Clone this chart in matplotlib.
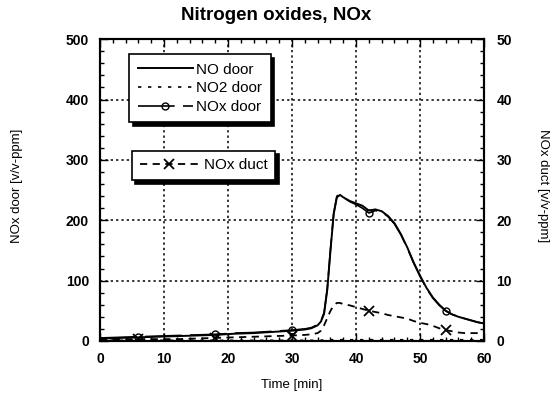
import matplotlib.pyplot as plt
from matplotlib.ticker import MultipleLocator

plt.rcParams['font.family'] = ['Liberation Sans', 'DejaVu Sans']

# time axis [min]
time = [0, 3, 6, 9, 12, 15, 18, 21, 24, 27, 30, 32, 33, 34, 34.5, 35, 35.5,
        36, 36.5, 37, 37.5, 38, 39, 40, 41, 42, 43, 44, 45, 46, 47, 48, 49,
        50, 51, 52, 53, 54, 55, 56, 57, 58, 59, 60]

# door concentrations [v/v-ppm]
no_door = [4, 5, 6, 7, 8, 9, 10, 12, 13, 15, 17, 19, 21, 26, 32, 45, 85,
           150, 210, 238, 242, 238, 232, 228, 224, 216, 218, 215, 207, 195,
           177, 155, 130, 108, 88, 72, 60, 50, 44, 40, 37, 34, 31, 29]
no2_door = [1, 1, 1, 1, 1, 1, 1, 1, 1, 1, 1, 1, 1, 1, 1, 2, 2,
            2, 2, 2, 2, 2, 2, 2, 2, 2, 2, 2, 2, 2, 2, 2, 2,
            2, 2, 2, 2, 2, 2, 2, 2, 2, 2, 2]
nox_door = [5, 6, 7, 8, 9, 10, 11, 13, 14, 16, 18, 20, 22, 27, 33, 47, 87,
            152, 212, 240, 243, 238, 231, 226, 220, 212, 216, 214, 206, 194,
            176, 154, 129, 107, 87, 71, 59, 50, 44, 40, 37, 34, 31, 29]

# duct concentration [v/v-ppm]
nox_duct = [0.3, 0.3, 0.3, 0.3, 0.3, 0.4, 0.5, 0.6, 0.7, 0.8, 0.9, 1.0, 1.1,
            1.3, 1.7, 2.6, 3.8, 5.0, 5.9, 6.3, 6.3, 6.1, 5.9, 5.6, 5.3, 5.0,
            4.8, 4.6, 4.3, 4.1, 3.9, 3.7, 3.3, 3.0, 2.8, 2.5, 2.1, 1.8, 1.6,
            1.4, 1.3, 1.3, 1.3, 1.3]

marker_times = [6, 18, 30, 42, 54]
marks = [time.index(t) for t in marker_times]

fig = plt.figure(figsize=(5.59, 3.96), dpi=100)
ax = fig.add_axes([0.179, 0.139, 0.687, 0.762])
ax2 = ax.twinx()

ax.set_zorder(2)
ax.patch.set_visible(False)

l3, = ax.plot(time, nox_door, color='black', lw=1.2, ls=(0, (22, 5)),
              marker='o', ms=5, mfc='none', mew=1.0, markevery=marks,
              label='NOx door')
l1, = ax.plot(time, no_door, color='black', lw=1.4, label='NO door')
l2, = ax.plot(time, no2_door, color='black', lw=1.2, ls=(0, (2, 4)),
              label='NO2 door')
l4, = ax2.plot(time, nox_duct, color='black', lw=1.3, ls=(0, (4, 3)),
               marker='x', ms=7, mew=1.3, markevery=marks, label='NOx duct')

ax.set_xlim(0, 60)
ax.set_ylim(0, 500)
ax2.set_ylim(0, 50)

ax.xaxis.set_major_locator(MultipleLocator(10))
ax.xaxis.set_minor_locator(MultipleLocator(2))
ax.yaxis.set_major_locator(MultipleLocator(100))
ax.yaxis.set_minor_locator(MultipleLocator(20))
ax2.yaxis.set_major_locator(MultipleLocator(10))
ax2.yaxis.set_minor_locator(MultipleLocator(2))

ax.grid(True, which='major', color='black', ls=(0, (1.5, 2)), lw=1.1)

for a in (ax, ax2):
    a.tick_params(which='both', direction='in', width=1.0, labelsize=10)
    a.tick_params(which='major', length=6)
    a.tick_params(which='minor', length=3)
    for s in a.spines.values():
        s.set_linewidth(1.5)
ax.tick_params(which='both', top=True, pad=8)
ax2.tick_params(which='both', pad=9)
for lab in ax.get_xticklabels() + ax.get_yticklabels() + ax2.get_yticklabels():
    lab.set_fontweight('bold')

ax.set_xlabel('Time [min]', fontsize=9.5, labelpad=9)
fig.text(0.03, 0.53, 'NOx door [v/v-ppm]', rotation=90, fontsize=9.5,
         ha='center', va='center')
fig.text(0.972, 0.53, 'NOx duct [v/v-ppm]', rotation=-90, fontsize=9.5,
         ha='center', va='center')
fig.text(0.494, 0.96, 'Nitrogen oxides, NOx', fontsize=13.5, fontweight='bold',
         ha='center', va='center')

shadow = {'color': 'black', 'alpha': 1.0, 'ox': 2.5, 'oy': -2.5}
leg1 = ax.legend(handles=[l1, l2, l3], loc='upper left',
                 bbox_to_anchor=(0.076, 0.95), borderaxespad=0,
                 fancybox=False, shadow=shadow, framealpha=1, edgecolor='black',
                 handlelength=3.6, fontsize=11, numpoints=1,
                 handletextpad=0.25, labelspacing=0.3, borderpad=0.55)
leg1.get_frame().set_linewidth(1.2)
ax.add_artist(leg1)
leg2 = ax.legend(handles=[l4], loc='upper left',
                 bbox_to_anchor=(0.083, 0.63), borderaxespad=0,
                 fancybox=False, shadow=shadow, framealpha=1, edgecolor='black',
                 handlelength=3.9, fontsize=11, numpoints=1,
                 handletextpad=0.3, borderpad=0.5)
leg2.get_frame().set_linewidth(1.2)

fig.savefig('out.png', dpi=100)
